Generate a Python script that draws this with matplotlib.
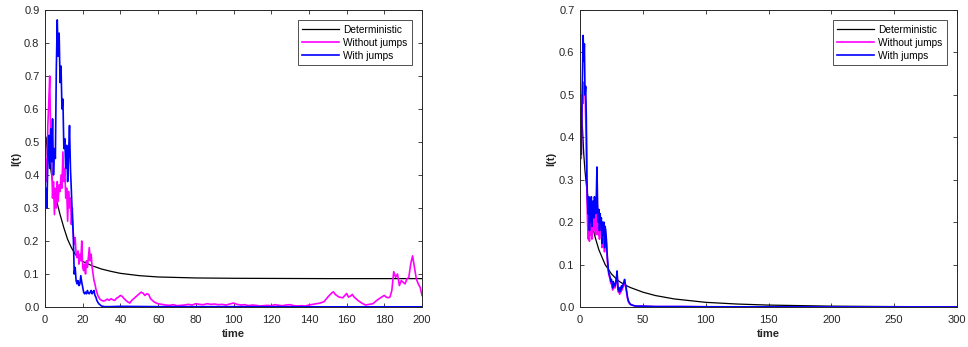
import numpy as np
import matplotlib
matplotlib.use("Agg")
import matplotlib.pyplot as plt

plt.rcParams['font.family'] = ['Liberation Sans', 'DejaVu Sans']

# ---- left panel data (T = 200) ----
tL_det = [0, 0.5, 1, 1.5, 2, 3, 4, 5, 6, 8, 10, 12, 14, 16, 18, 20, 25, 30, 35, 40,
          50, 60, 80, 100, 150, 200]
iL_det = [0.40, 0.48, 0.515, 0.50, 0.47, 0.42, 0.38, 0.35, 0.325, 0.28, 0.24, 0.205,
          0.18, 0.16, 0.147, 0.138, 0.125, 0.115, 0.108, 0.102, 0.095, 0.091, 0.088,
          0.087, 0.086, 0.086]

tL_blue = list(np.arange(0, 32.5, 0.5)) + [34, 40, 60, 100, 150, 200]
iL_blue = [0.28, 0.36, 0.30, 0.45, 0.52, 0.42, 0.54, 0.44, 0.57, 0.40,
           0.48, 0.45, 0.72, 0.87, 0.76, 0.83, 0.68, 0.73, 0.60, 0.63,
           0.48, 0.51, 0.42, 0.49, 0.38, 0.46, 0.55, 0.42, 0.35, 0.27,
           0.22, 0.10, 0.12, 0.08, 0.07, 0.08, 0.065, 0.07, 0.095, 0.075,
           0.06, 0.045, 0.04, 0.045, 0.04, 0.05, 0.042, 0.04, 0.045, 0.05,
           0.04, 0.045, 0.05, 0.035, 0.03, 0.02, 0.015, 0.01, 0.008, 0.005,
           0.003, 0.002, 0.002, 0.001, 0.001,
           0.001, 0.002, 0.001, 0.001, 0.0005, 0.0005]

tL_mag = (list(np.arange(0, 30.5, 0.5)) + list(range(31, 61)) + list(range(62, 150, 2))
          + [150, 152, 153, 154, 156, 158, 160, 161, 162, 163, 164, 166, 168, 170, 172,
             174, 176, 178, 180, 181, 182, 183, 184, 185, 186, 187, 188, 189, 190, 191,
             192, 193, 194, 195, 196, 197, 198, 199, 200])
iL_mag = [0.35, 0.45, 0.38, 0.55, 0.62, 0.70, 0.52, 0.45, 0.33, 0.38,
          0.28, 0.36, 0.30, 0.38, 0.32, 0.37, 0.35, 0.40, 0.36, 0.47,
          0.38, 0.42, 0.33, 0.36, 0.26, 0.35, 0.30, 0.33, 0.25, 0.30,
          0.22, 0.19, 0.21, 0.16, 0.15, 0.17, 0.13, 0.16, 0.14, 0.20,
          0.12, 0.11, 0.13, 0.10, 0.14, 0.12, 0.15, 0.18, 0.14, 0.16,
          0.12, 0.10, 0.08, 0.07, 0.055, 0.045, 0.035, 0.03, 0.025, 0.022,
          0.02,
          # 31..60
          0.018, 0.02, 0.024, 0.02, 0.025, 0.022, 0.02, 0.027, 0.03, 0.035,
          0.032, 0.025, 0.02, 0.015, 0.012, 0.02, 0.025, 0.03, 0.035, 0.04,
          0.045, 0.042, 0.035, 0.04, 0.038, 0.025, 0.02, 0.015, 0.012, 0.01,
          # 62..148
          0.008, 0.006, 0.005, 0.007, 0.004, 0.005, 0.006, 0.008, 0.006, 0.01,
          0.008, 0.007, 0.01, 0.008, 0.009, 0.007, 0.008, 0.006, 0.009, 0.012,
          0.008, 0.006, 0.007, 0.004, 0.006, 0.005, 0.003, 0.004, 0.005, 0.004,
          0.007, 0.005, 0.004, 0.006, 0.007, 0.004, 0.003, 0.004, 0.003, 0.006,
          0.008, 0.01, 0.012, 0.016,
          # 150..200
          0.03, 0.042, 0.046, 0.038, 0.03, 0.028, 0.041, 0.03, 0.033, 0.038,
          0.03, 0.02, 0.012, 0.006, 0.008, 0.01, 0.02, 0.028, 0.035, 0.03,
          0.028, 0.03, 0.05, 0.107, 0.09, 0.1, 0.065, 0.08, 0.075, 0.07,
          0.085, 0.09, 0.13, 0.155, 0.12, 0.085, 0.07, 0.06, 0.035]

# ---- right panel data (T = 300) ----
tR_det = [0, 0.5, 1, 2, 3, 4, 5, 6, 8, 10, 12, 15, 20, 25, 30, 35, 40, 50, 60, 75,
          100, 125, 150, 200, 250, 300]
iR_det = [0.37, 0.45, 0.47, 0.42, 0.36, 0.32, 0.29, 0.265, 0.22, 0.19, 0.165, 0.135,
          0.10, 0.078, 0.063, 0.053, 0.046, 0.035, 0.027, 0.019, 0.011, 0.007,
          0.0045, 0.002, 0.001, 0.0005]

tR_tail = [41, 42, 43, 45, 50, 60, 80, 100, 150, 200, 300]
tR_noise = list(np.arange(0, 40.5, 0.5)) + tR_tail
iR_blue = [0.33, 0.40, 0.36, 0.47, 0.55, 0.64, 0.58, 0.62, 0.50, 0.52,
           0.45, 0.30, 0.25, 0.22, 0.26, 0.18, 0.24, 0.20, 0.26, 0.19,
           0.23, 0.25, 0.21, 0.26, 0.24, 0.22, 0.26, 0.33, 0.24, 0.20,
           0.23, 0.18, 0.22, 0.20, 0.21, 0.15, 0.20, 0.17, 0.20, 0.14,
           0.19, 0.18, 0.16, 0.13, 0.11, 0.09, 0.08, 0.075, 0.07, 0.06,
           0.065, 0.055, 0.045, 0.06, 0.05, 0.055, 0.05, 0.06, 0.07, 0.085,
           0.055, 0.04, 0.045, 0.035, 0.045, 0.04, 0.05, 0.045, 0.05, 0.055,
           0.06, 0.065, 0.055, 0.05, 0.04, 0.03, 0.02, 0.015, 0.012, 0.009,
           0.007,
           0.005, 0.004, 0.003, 0.002, 0.002, 0.001, 0.001, 0.0005, 0.0003, 0.0002, 0.0001]
iR_mag = [0.32, 0.38, 0.35, 0.45, 0.50, 0.48, 0.53, 0.50, 0.52, 0.45,
          0.40, 0.26, 0.20, 0.16, 0.22, 0.155, 0.21, 0.17, 0.23, 0.16,
          0.20, 0.22, 0.18, 0.23, 0.21, 0.17, 0.23, 0.28, 0.21, 0.17,
          0.20, 0.16, 0.20, 0.18, 0.19, 0.14, 0.18, 0.16, 0.18, 0.13,
          0.17, 0.16, 0.15, 0.12, 0.10, 0.085, 0.075, 0.07, 0.065, 0.055,
          0.06, 0.05, 0.04, 0.055, 0.045, 0.05, 0.045, 0.055, 0.065, 0.08,
          0.05, 0.035, 0.04, 0.03, 0.04, 0.035, 0.045, 0.04, 0.045, 0.05,
          0.055, 0.06, 0.05, 0.045, 0.035, 0.025, 0.018, 0.012, 0.01, 0.008,
          0.006,
          0.005, 0.004, 0.003, 0.002, 0.002, 0.001, 0.001, 0.0005, 0.0003, 0.0002, 0.0001]

labels = ['Deterministic', 'Without jumps', 'With jumps']
GRAY = '#262626'

fig = plt.figure(figsize=(9.68, 3.47), dpi=100)
axL = fig.add_axes([45 / 968, 1 - 307 / 347, 377 / 968, 297 / 347])
axR = fig.add_axes([580 / 968, 1 - 307 / 347, 377 / 968, 297 / 347])


def style(ax, xmax, xstep, ymax):
    ax.set_xlim(0, xmax)
    ax.set_ylim(0, ymax)
    ax.set_xticks(np.arange(0, xmax + 1, xstep))
    ax.set_yticks(np.round(np.arange(0, ymax + 0.001, 0.1), 1))
    ax.tick_params(direction='in', top=True, right=True, length=3, width=0.6,
                   labelsize=8, colors=GRAY)
    ax.tick_params(axis='x', pad=5.5)
    ax.tick_params(axis='y', pad=4)
    for s in ax.spines.values():
        s.set_color(GRAY)
        s.set_linewidth(0.7)
    ax.set_xlabel('time', fontsize=8, fontweight='bold', color=GRAY, labelpad=3)
    ax.set_ylabel('I(t)', fontsize=8, fontweight='bold', color=GRAY, labelpad=2)
    leg = ax.legend(labels, loc='upper right', fontsize=7.3, frameon=True,
                    fancybox=False, edgecolor='black', handlelength=3.6,
                    borderaxespad=1.0, borderpad=0.45, labelspacing=0.3,
                    handletextpad=0.4)
    leg.get_frame().set_linewidth(0.6)


axL.plot(tL_det, iL_det, color='black', lw=0.9)
axL.plot(tL_mag, iL_mag, color='#FF00FF', lw=1.2)
axL.plot(tL_blue, iL_blue, color='#0000FF', lw=1.2)
style(axL, 200, 20, 0.9)

axR.plot(tR_det, iR_det, color='black', lw=0.9)
axR.plot(tR_noise, iR_mag, color='#FF00FF', lw=1.2)
axR.plot(tR_noise, iR_blue, color='#0000FF', lw=1.2)
style(axR, 300, 50, 0.7)

fig.savefig('out.png', dpi=100)
